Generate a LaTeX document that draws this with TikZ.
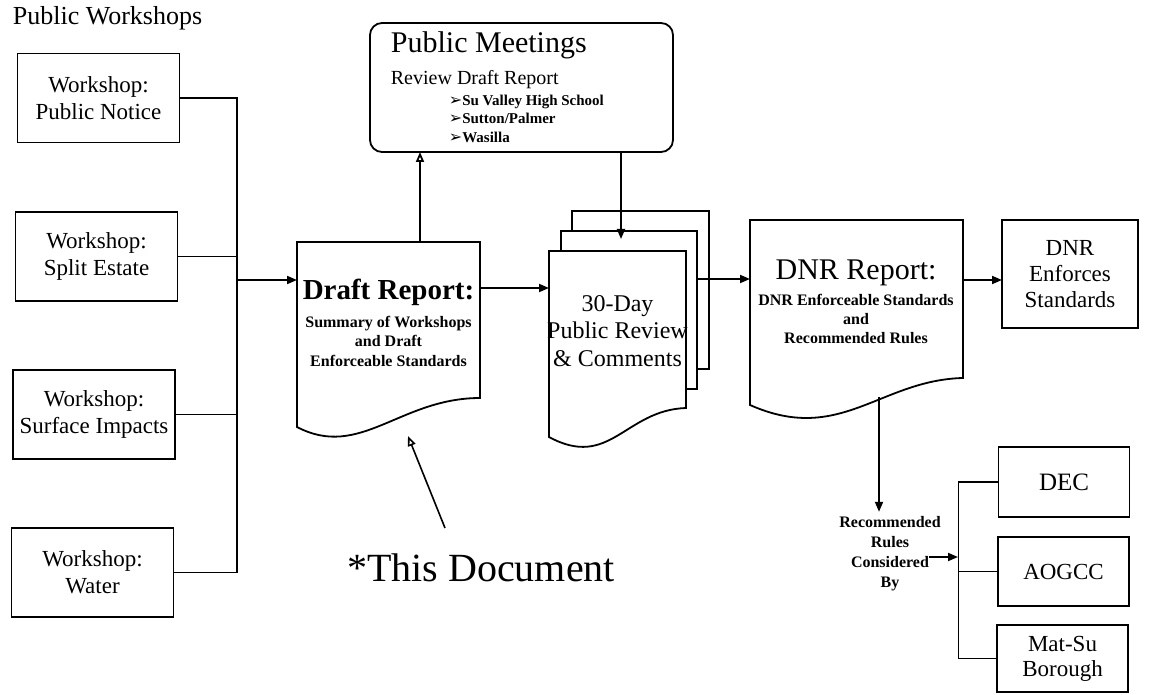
\documentclass[tikz,border=0pt]{standalone}
\usepackage{fontspec}
\setmainfont{Liberation Serif}
\newfontfamily\symfont{DejaVu Sans}
\usetikzlibrary{arrows.meta}
\newcommand\bul{{\symfont\fontsize{8}{8}\selectfont ➢}}
\begin{document}
\begin{tikzpicture}[x=0.5pt,y=-0.5pt, line width=0.9pt,
  box/.style={draw, inner sep=0pt, outer sep=0pt, align=center},
  wsbox/.style={box, minimum width=81pt, minimum height=44.5pt, font=\fontsize{11.5}{13.5}\selectfont},
  orgbox/.style={box, minimum width=65.5pt, minimum height=34.5pt},
  doc/.style={draw, fill=white, line join=miter},
  arr/.style={-{Triangle[length=5pt,width=4pt]}},
  oarr/.style={-{Triangle[open,length=5pt,width=4pt]}},
  small/.style={font=\fontsize{8}{9.75}\selectfont\bfseries, align=center, inner sep=0pt}]
\useasboundingbox (0,0) rectangle (1150,695);

% title
\node[anchor=west, inner sep=0pt, font=\fontsize{13}{15}\selectfont] (title) at (12,18) {Public Workshops};

% workshop boxes
\node[wsbox] (pn) at (98.5,98) {Workshop:\\Public Notice};
\node[wsbox] (se) at (96.5,256.5) {Workshop:\\Split Estate};
\node[wsbox] (si) at (94,414.5) {Workshop:\\Surface Impacts};
\node[wsbox] (wa) at (92.5,572.5) {Workshop:\\Water};

\coordinate (busB) at (237,572.5);
\draw (pn.east) -| (busB) -- (wa.east);
\draw (se.east) -- (se.east -| busB);
\draw (si.east) -- (si.east -| busB);
\coordinate (draftIn) at (297,280);
\draw[arr] (draftIn -| busB) -- (draftIn);

% public meetings
\node[box, rounded corners=6pt, minimum width=151.5pt, minimum height=64.5pt] (pm) at (521.5,87.5) {};
\node[anchor=west, inner sep=0pt, font=\fontsize{15}{17}\selectfont] (pmtitle) at (390,45) {Public Meetings};
\node[anchor=west, inner sep=0pt, font=\fontsize{10}{12}\selectfont] (pmsub) at (390,80) {Review Draft Report};
\node[anchor=north west, align=left, inner sep=0pt, font=\fontsize{7.5}{9.25}\selectfont\bfseries] (pmlist) at (448,94)
  {\bul Su Valley High School\\\bul Sutton/Palmer\\\bul Wasilla};

% draft report document
\draw[doc] (297,427) -- (297,242) -- (480,242) -- (480,398)
  .. controls (400,398) and (360,460) .. (297,427) -- cycle;
\node[inner sep=0pt, font=\fontsize{14.5}{16}\selectfont\bfseries] (drafttitle) at (388.5,292) {Draft Report:};
\node[small] (draftsub) at (388.5,341) {Summary of Workshops\\and Draft\\Enforceable Standards};

\coordinate (draftTop) at (420,242);
\draw[oarr] (draftTop) -- (draftTop |- pm.south);
\coordinate (draftOut) at (480,288);
\coordinate (revIn) at (549,288);
\draw[arr] (draftOut) -- (revIn);

% 30-day review pages
\draw[doc] (572,211) rectangle (709,369);
\draw[doc] (561,231) rectangle (697,389);
\draw[doc] (549,437) -- (549,251) -- (686,251) -- (686,408)
  .. controls (625,410) and (610,470) .. (549,437) -- cycle;
\node[align=center, inner sep=0pt, font=\fontsize{12}{13.75}\selectfont] (revtxt) at (617.5,331) {30-Day\\Public Review\\\& Comments};

\coordinate (revTop) at (621,239);
\draw[arr] (revTop |- pm.south) -- (revTop);

\coordinate (revOut) at (697,279);
\coordinate (dnrIn) at (750,279);
\draw[arr] (revOut) -- (dnrIn);

% DNR report document
\draw[doc] (750,405) -- (750,220) -- (963,220) -- (963,378)
  .. controls (880,380) and (840,445) .. (750,405) -- cycle;
\node[inner sep=0pt, font=\fontsize{15}{17}\selectfont] (dnrtitle) at (856,273) {DNR Report:};
\node[small, font=\fontsize{8}{9.5}\selectfont\bfseries] (dnrsub) at (856,319) {DNR Enforceable Standards\\and\\Recommended Rules};

% DNR enforces
\node[box, minimum width=68pt, minimum height=54pt, font=\fontsize{11.5}{13}\selectfont] (enf) at (1070,274) {DNR\\Enforces\\Standards};
\coordinate (dnrOut) at (963,280);
\draw[arr] (dnrOut) -- (dnrOut -| enf.west);

% recommended rules
\node[small, inner sep=2pt, font=\fontsize{8}{10}\selectfont\bfseries] (rec) at (890,554) {Recommended\\Rules\\Considered\\By};
\coordinate (dnrBot) at (879,397);
\draw[arr] (dnrBot) -- (dnrBot |- rec.north);

\node[orgbox, minimum height=35pt, font=\fontsize{12.5}{14}\selectfont] (dec) at (1064,482) {DEC};
\node[orgbox, font=\fontsize{11.5}{13}\selectfont] (aog) at (1063.5,571.5) {AOGCC};
\node[orgbox, minimum height=33.5pt, font=\fontsize{11.5}{12.5}\selectfont] (ms) at (1062.5,658.5) {Mat-Su\\Borough};

\draw (dec.west) -- ++(-40,0) |- (ms.west);
\draw (aog.west) -- ++(-40,0);
\coordinate (recOut) at (929,557);
\coordinate (brIn) at (958,557);
\draw[arr] (recOut) -- (brIn);

% this document
\node[inner sep=0pt, font=\fontsize{20}{24}\selectfont] (thisdoc) at (481,568) {*This Document};
\coordinate (tdStart) at (445,528);
\coordinate (tdTip) at (408,436);
\draw[oarr, line width=0.8pt] (tdStart) -- (tdTip);
\end{tikzpicture}
\end{document}
